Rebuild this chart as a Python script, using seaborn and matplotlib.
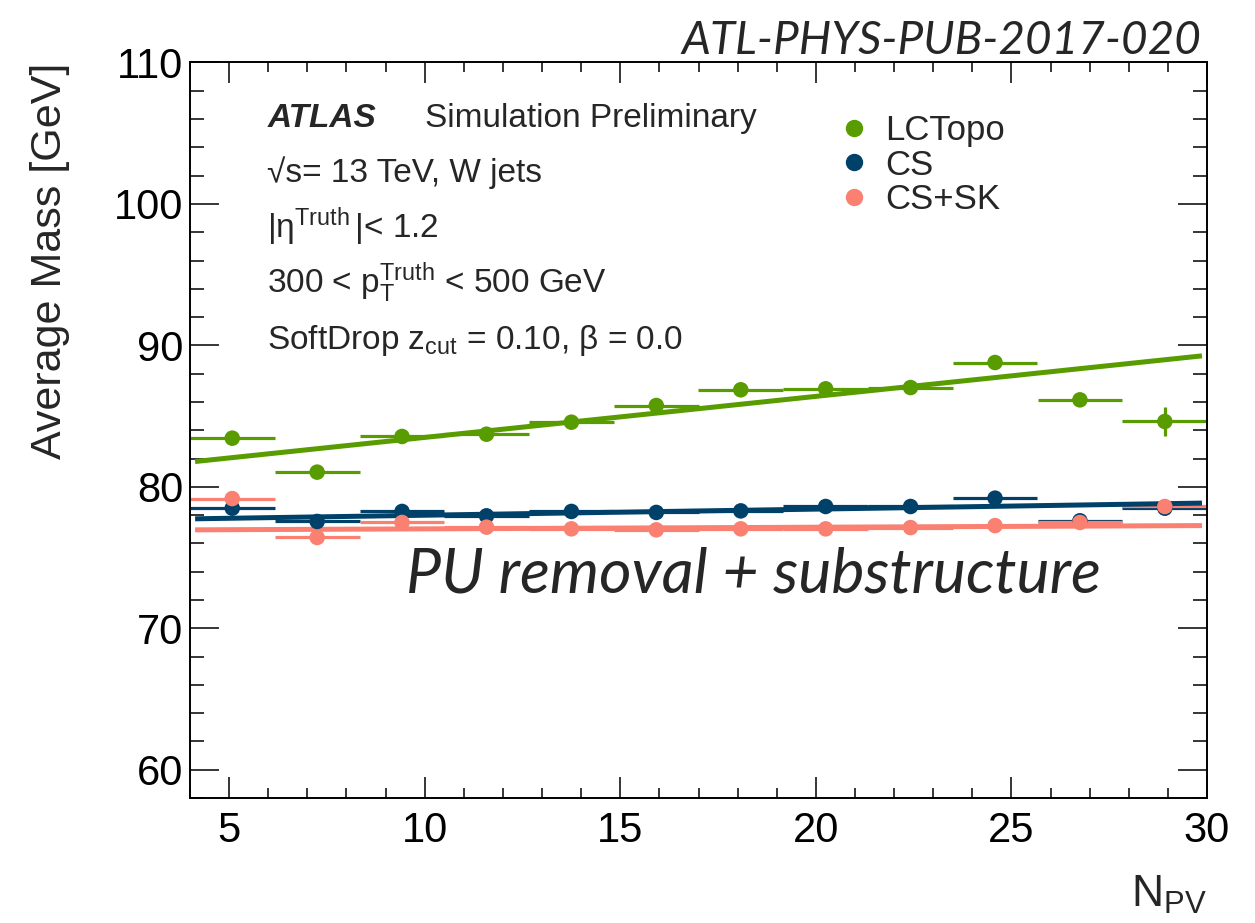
import matplotlib
matplotlib.use("Agg")
import matplotlib.pyplot as plt
import numpy as np
import pandas as pd
import seaborn as sns
from matplotlib.ticker import MultipleLocator

# Number of primary vertices: bin centres and half bin width
npv_centers = [5.08, 7.25, 9.42, 11.58, 13.75, 15.92, 18.08, 20.25, 22.42, 24.58, 26.75, 28.92]
npv_halfwidth = 1.083

# Average jet mass per N_PV bin [GeV]
mass_lctopo = [83.44, 81.04, 83.56, 83.72, 84.57, 85.75, 86.86, 86.93, 87.02, 88.79, 86.15, 84.62]
err_lctopo = [0.20, 0.20, 0.15, 0.15, 0.15, 0.15, 0.20, 0.20, 0.25, 0.30, 0.45, 1.00]
mass_cs = [78.49, 77.55, 78.26, 77.95, 78.26, 78.19, 78.30, 78.61, 78.61, 79.20, 77.60, 78.49]
err_cs = [0.15, 0.15, 0.10, 0.10, 0.10, 0.10, 0.10, 0.10, 0.15, 0.20, 0.30, 0.45]
mass_cssk = [79.17, 76.42, 77.48, 77.15, 77.03, 76.96, 77.03, 77.03, 77.12, 77.26, 77.48, 78.61]
err_cssk = [0.15, 0.15, 0.10, 0.10, 0.10, 0.10, 0.10, 0.10, 0.15, 0.20, 0.30, 0.45]

# Linear fits: end points
fit_npv = [4.13, 29.87]
fit_lctopo = [81.79, 89.26]
fit_cs = [77.74, 78.85]
fit_cssk = [76.96, 77.26]

labels = ["LCTopo", "CS", "CS+SK"]
colors = {"LCTopo": "#599c00", "CS": "#00416a", "CS+SK": "#fa8072"}

sns.set_theme(style="ticks")
plt.rcParams["font.family"] = ["Liberation Sans", "DejaVu Sans"]
plt.rcParams["mathtext.fontset"] = "custom"
plt.rcParams["mathtext.rm"] = "Liberation Sans"
plt.rcParams["mathtext.it"] = "Liberation Sans:italic"
plt.rcParams["mathtext.bf"] = "Liberation Sans:bold"

frames = []
for name, m, e in zip(labels, [mass_lctopo, mass_cs, mass_cssk], [err_lctopo, err_cs, err_cssk]):
    frames.append(pd.DataFrame({"npv": npv_centers, "mass": m, "err": e, "algo": name}))
df = pd.concat(frames, ignore_index=True)

fig = plt.figure(figsize=(12.55, 9.23), dpi=100)
ax = fig.add_axes([0.1514, 0.1354, 0.8104, 0.7969])

fits = {"LCTopo": fit_lctopo, "CS": fit_cs, "CS+SK": fit_cssk}
for name in labels:
    sub = df[df.algo == name]
    ax.errorbar(sub.npv, sub.mass, xerr=npv_halfwidth, yerr=sub.err, fmt="none",
                ecolor=colors[name], elinewidth=2.3, capsize=0, zorder=2)
    ax.plot(fit_npv, fits[name], color=colors[name], lw=3.6, solid_capstyle="butt", zorder=3)
    sns.scatterplot(data=sub, x="npv", y="mass", color=colors[name], s=125,
                    edgecolor="none", linewidth=0, ax=ax, zorder=4, legend=False)

ax.set_xlim(4, 30)
ax.set_ylim(58, 110)
ax.xaxis.set_major_locator(MultipleLocator(5))
ax.xaxis.set_minor_locator(MultipleLocator(1))
ax.yaxis.set_major_locator(MultipleLocator(10))
ax.yaxis.set_minor_locator(MultipleLocator(2))
ax.tick_params(which="both", direction="in", top=True, right=True, width=1.1, colors="black")
ax.tick_params(axis="x", which="major", length=15, labelsize=30, pad=9)
ax.tick_params(axis="x", which="minor", length=7.5)
ax.tick_params(axis="y", which="major", length=21, labelsize=30, pad=5)
ax.tick_params(axis="y", which="minor", length=10)
for sp in ax.spines.values():
    sp.set_linewidth(1.4)
    sp.set_color("black")

ax.set_ylabel("Average Mass [GeV]", fontsize=31, loc="top")
ax.yaxis.set_label_coords(-0.118, 1.0)
ax.set_xlabel(r"N$_{\mathrm{PV}}$", fontsize=32, loc="right")
ax.xaxis.set_label_coords(1.0, -0.103)

# Legend
handles = [plt.Line2D([], [], ls="none", marker="o", markersize=11.5, color=colors[n]) for n in labels]
ax.legend(handles, labels, loc="upper left", bbox_to_anchor=(0.622, 0.949), frameon=False,
          fontsize=25, handlelength=1.0, handletextpad=0.4, labelspacing=0.05, borderaxespad=0)

# ATLAS label and selection text
tx = 0.076
fs = 24
kw = dict(transform=ax.transAxes, fontsize=fs, va="baseline")
ax.text(tx, 0.912, "ATLAS", fontweight="bold", style="italic", **kw)
ax.text(0.231, 0.912, "Simulation Preliminary", **kw)
ax.text(tx, 0.8375, "\u221as= 13 TeV, W jets", **kw)
ax.text(tx, 0.7614, r"$|\mathrm{\eta}^{\mathrm{Truth}}\,|$< 1.2", **kw)
ax.text(tx, 0.6866, r"300 < $\mathrm{p}_{\mathrm{T}}^{\mathrm{Truth}}$ < 500 GeV", **kw)
ax.text(tx, 0.6105, r"SoftDrop $\mathrm{z}_{\mathrm{cut}}$ = 0.10, $\mathrm{\beta}$ = 0.0", **kw)

ax.text(0.212, 0.280, "PU removal + substructure", transform=ax.transAxes, fontsize=45,
        family="Lato", style="italic", va="baseline")
fig.text(0.957, 0.9415, "ATL-PHYS-PUB-2017-020", fontsize=33, family="Lato", style="italic",
         ha="right", va="baseline")

fig.savefig("out.png", dpi=100)
